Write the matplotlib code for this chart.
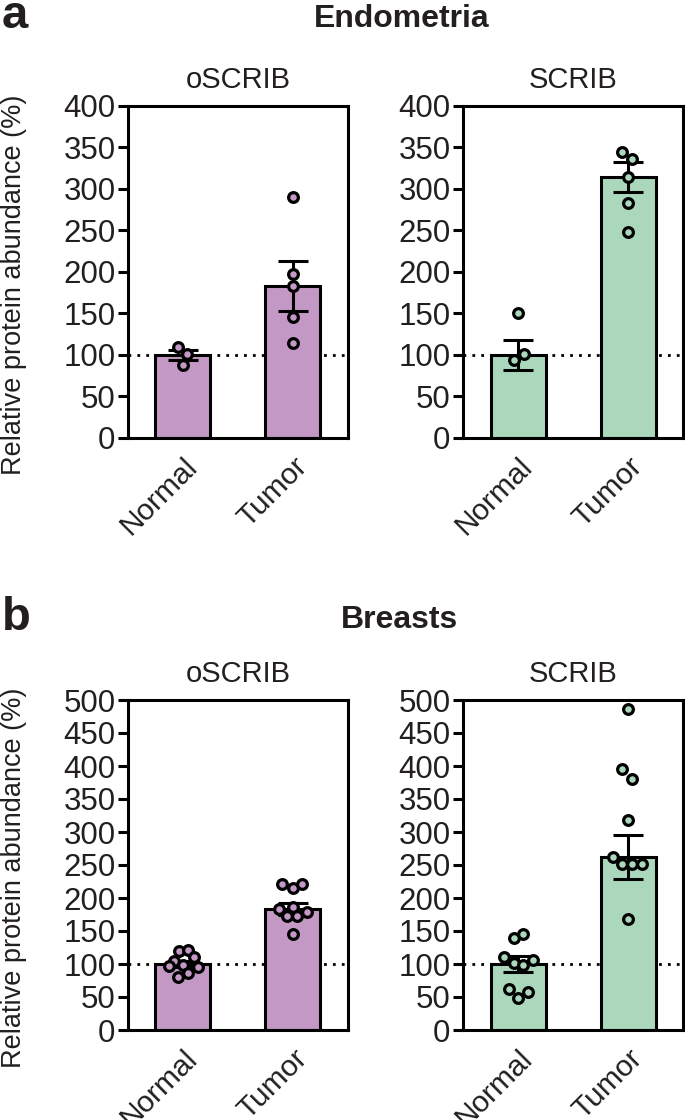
"""
bar + scatter plots (Endometria / Breasts, oSCRIB / SCRIB)
"""

#------------------------------------------------------------
# import
import matplotlib
matplotlib.use("Agg")
import matplotlib.pyplot as plt
import numpy as np

#------------------------------------------------------------
# data

groups = ["Normal", "Tumor"]

# a: Endometria
endo_oscrib_mean = [100, 183]
endo_oscrib_sem = [6.5, 30]
endo_oscrib_normal = [110, 101, 88]
endo_oscrib_tumor = [290, 198, 183, 146, 115]

endo_scrib_mean = [100, 314]
endo_scrib_sem = [18, 18]
endo_scrib_normal = [151, 101, 94]
endo_scrib_tumor = [345, 336, 314, 283, 248]

# b: Breasts
breast_oscrib_mean = [100, 183]
breast_oscrib_sem = [4.5, 8.8]
breast_oscrib_normal = [120, 121, 110, 104, 99, 97, 96, 86, 81]
breast_oscrib_tumor = [221, 215, 221, 187, 184, 179, 172, 172, 145]

breast_scrib_mean = [100, 262]
breast_scrib_sem = [12, 33]
breast_scrib_normal = [140, 146, 111, 101, 98, 106, 62, 57, 49]
breast_scrib_tumor = [486, 395, 380, 318, 262, 251, 251, 251, 168]

# 点の横ずれ（カテゴリ幅に対する割合）
endo_oscrib_normal_dx = [-0.045, 0.036, 0.0]
endo_oscrib_tumor_dx = [0, 0, 0, 0, 0]
endo_scrib_normal_dx = [0.0, 0.052, -0.04]
endo_scrib_tumor_dx = [-0.055, 0.036, 0, 0, 0]
breast_oscrib_normal_dx = [-0.04, 0.045, 0.10, -0.086, 0, -0.127, 0.136, 0.045, -0.045]
breast_oscrib_tumor_dx = [-0.10, 0, 0.082, 0, -0.127, 0.127, -0.055, 0.036, 0]
breast_scrib_normal_dx = [-0.04, 0.045, -0.13, -0.04, 0.045, 0.14, -0.086, 0.09, 0]
breast_scrib_tumor_dx = [0, -0.055, 0.036, 0, -0.136, -0.055, 0.036, 0.127, 0]

#------------------------------------------------------------
# style
plt.rcParams['font.family'] = ['Liberation Sans', 'DejaVu Sans']
TXT = "#231f20"
PURPLE = "#c398c5"
GREEN = "#abd8bc"
LW = 2.2

#------------------------------------------------------------
# functions

def plot_panel(ax, means, sems, normal, tumor, normal_dx, tumor_dx,
               color, title, ymax):
    x = np.arange(len(groups))

    # 基準線 (100%)
    ax.axhline(100, color="black", lw=2.0, ls=(0, (1, 2.2)), zorder=0.5)

    ax.bar(x, means, width=0.5, color=color, edgecolor="black",
           linewidth=LW, zorder=1)

    ax.errorbar(x, means, yerr=sems, fmt="none", ecolor="black",
                elinewidth=LW, capsize=10.5, capthick=LW, zorder=2)

    # 個々のデータ点
    for xi, vals, dx in [(0, normal, normal_dx), (1, tumor, tumor_dx)]:
        xs = xi + np.array(dx)
        ax.plot(xs, vals, "o", ms=7, mfc=color, mec="black", mew=2.3,
                zorder=3, clip_on=False)

    ax.set_xlim(-0.5, 1.5)
    ax.set_ylim(0, ymax)
    ax.set_yticks(np.arange(0, ymax + 1, 50))
    ax.set_xticks(x)
    ax.set_xticklabels(groups, rotation=45, ha="right",
                       rotation_mode="anchor", fontsize=21.5, color=TXT)

    ax.tick_params(axis="y", length=7, width=LW, labelsize=22.5,
                   labelcolor=TXT, pad=2)
    ax.tick_params(axis="x", length=0, pad=10)

    for sp in ax.spines.values():
        sp.set_linewidth(LW)

    ax.set_title(title, fontsize=21, color=TXT, pad=13)


#------------------------------------------------------------
# figure
W, H = 685, 1120
fig = plt.figure(figsize=(W / 100, H / 100), dpi=100)


def px_axes(x0, y0, x1, y1):
    # ピクセル座標（上原点）から軸を作成
    return fig.add_axes([x0 / W, 1 - y1 / H, (x1 - x0) / W, (y1 - y0) / H])


ax_a1 = px_axes(128, 106, 348, 438)
ax_a2 = px_axes(463, 106, 683, 438)
ax_b1 = px_axes(128, 700, 348, 1030)
ax_b2 = px_axes(463, 700, 683, 1030)

plot_panel(ax_a1, endo_oscrib_mean, endo_oscrib_sem, endo_oscrib_normal,
           endo_oscrib_tumor, endo_oscrib_normal_dx, endo_oscrib_tumor_dx,
           PURPLE, "oSCRIB", 400)
plot_panel(ax_a2, endo_scrib_mean, endo_scrib_sem, endo_scrib_normal,
           endo_scrib_tumor, endo_scrib_normal_dx, endo_scrib_tumor_dx,
           GREEN, "SCRIB", 400)
plot_panel(ax_b1, breast_oscrib_mean, breast_oscrib_sem, breast_oscrib_normal,
           breast_oscrib_tumor, breast_oscrib_normal_dx, breast_oscrib_tumor_dx,
           PURPLE, "oSCRIB", 500)
plot_panel(ax_b2, breast_scrib_mean, breast_scrib_sem, breast_scrib_normal,
           breast_scrib_tumor, breast_scrib_normal_dx, breast_scrib_tumor_dx,
           GREEN, "SCRIB", 500)

# パネル見出し
fig.text(2 / W, 1 - 16 / H, "a", fontsize=34, fontweight="bold",
         color=TXT, ha="left", va="center")
fig.text(2 / W, 1 - 618 / H, "b", fontsize=34, fontweight="bold",
         color=TXT, ha="left", va="center")
fig.text(402 / W, 1 - 19 / H, "Endometria", fontsize=23, fontweight="bold",
         color=TXT, ha="center", va="center")
fig.text(400 / W, 1 - 620 / H, "Breasts", fontsize=23, fontweight="bold",
         color=TXT, ha="center", va="center")

# y軸ラベル
for yc in [285, 878]:
    fig.text(14 / W, 1 - yc / H, "Relative protein abundance (%)",
             fontsize=19.5, color=TXT, rotation=90, ha="center", va="center")

fig.savefig("out.png", dpi=100)
